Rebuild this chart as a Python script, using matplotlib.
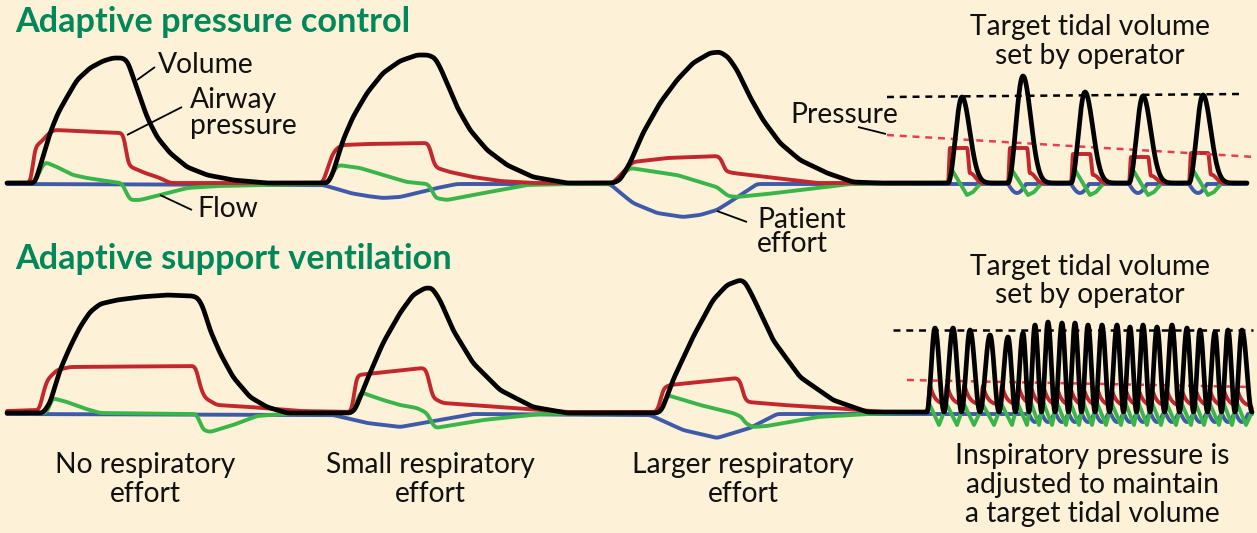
import numpy as np
import matplotlib
matplotlib.use("Agg")
import matplotlib.pyplot as plt

plt.rcParams['lines.scale_dashes'] = False

W, H = 1257, 533
BG = '#fdf2d7'
C_VOL, C_P, C_F, C_E = '#000000', '#c1272d', '#3ab54a', '#3f5aa9'
C_PD, C_TITLE = '#ec3b58', '#00875a'
FONT = 'Lato'

# ---------------- data: top panel (Adaptive pressure control) ----------------
# x = time axis, y = amplitude above the resting baseline
top_vol_x = [7, 35, 43, 50, 58, 67, 77, 90, 103, 113, 123, 128, 133, 140, 147, 157, 170, 187, 207, 233, 267, 328,
             333, 343, 353, 367, 383, 400, 417, 428, 435, 440, 447, 457, 470, 487, 507, 533, 567, 613,
             620, 630, 643, 660, 677, 693, 710, 720, 728, 737, 750, 763, 780, 800, 827, 853, 880, 948]
top_vol_y = [0, 0, 26, 50, 70, 86, 103, 115, 122, 125, 125, 121, 106, 86, 66, 46, 30, 16, 8, 3, 0, 0,
             10, 43, 66, 90, 110, 122, 128, 128, 125, 116, 100, 76, 53, 33, 18, 6, 0, 0,
             3, 20, 50, 80, 103, 120, 130, 131, 126, 113, 86, 63, 40, 23, 10, 1, 0, 0]

top_press_x = [7, 32, 33, 35, 43, 50, 55, 122, 125, 127, 131, 145, 160, 170, 323,
               327, 332, 337, 343, 367, 428, 431, 433, 437, 450, 473, 500, 533, 610,
               613, 623, 633, 667, 718, 722, 725, 733, 767, 817, 948]
top_press_y = [0, 0, 28, 36, 43, 51, 53, 50, 46, 20, 16, 10, 5, 0, 0,
               13, 28, 35, 38, 39, 40, 33, 20, 15, 11, 6, 2, 0, 0,
               0, 11, 21, 25, 27, 23, 12, 10, 6, 0, 0]

top_flow_x = [7, 35, 40, 45, 57, 73, 87, 113, 122, 126, 130, 140, 160, 187, 217, 267, 323,
              328, 333, 338, 360, 383, 407, 428, 432, 435, 447, 473, 500, 527, 567, 613,
              620, 630, 650, 677, 700, 717, 723, 728, 737, 767, 800, 850, 948]
top_flow_y = [0, 0, 13, 21, 16, 8, 5, 1, 0, -9, -17, -17, -12, -5, -3, -2, -1,
              1, 11, 18, 15, 8, 1, -1, -7, -15, -17, -12, -7, -2, -1, -1,
              6, 15, 12, 8, 1, -4, -9, -13, -14, -11, -7, -1, 0]

top_eff_x = [7, 323, 337, 350, 367, 383, 400, 417, 437, 457,
             610, 623, 633, 657, 683, 700, 717, 733, 757, 948]
top_eff_y = [-1, -2, -6, -10, -13, -15, -14, -10, -5, -1,
             -1, -12, -20, -30, -34, -32, -27, -17, -1, -1]

# fast breaths on the right (top)
top_fast_onset = [948, 1008, 1071, 1129, 1189]
top_fast_peak = [962, 1023, 1085, 1143, 1203]
top_fast_vol = [86, 107, 91, 87, 88]
top_fast_press = [35, 35, 29, 26, 30]
top_fast_effort = [0, 9, 9, 9, 9]
top_end = 1247

top_target_x, top_target_y = [887, 1240], [86, 89]
top_ptarget_x, top_ptarget_y = [887, 1255], [48, 26]

# ---------------- data: bottom panel (Adaptive support ventilation) ----------------
bot_vol_x = [7, 43, 50, 60, 70, 80, 90, 100, 117, 140, 167, 193, 198, 203, 210, 220, 233, 250, 267, 287,
             350, 355, 367, 383, 400, 413, 425, 432, 440, 453, 473, 500, 533, 567,
             657, 662, 673, 693, 713, 727, 740, 745, 753, 773, 800, 833, 867, 927]
bot_vol_y = [-1, -1, 9, 42, 65, 85, 100, 108, 112, 115, 117, 116, 114, 105, 82, 59, 35, 15, 5, -1,
             -1, 2, 32, 69, 99, 117, 124, 124, 112, 82, 49, 22, 5, -1,
             -1, 2, 32, 75, 112, 127, 132, 130, 115, 72, 35, 12, 0, 0]

bot_press_x = [7, 40, 42, 47, 57, 70, 195, 197, 200, 205, 217, 250, 300,
               350, 353, 355, 358, 367, 423, 427, 430, 433, 443, 500, 567,
               657, 660, 663, 670, 737, 742, 743, 748, 783, 833, 883, 927]
bot_press_y = [1, 2, 15, 32, 42, 45, 46, 42, 25, 14, 7, 5, 1,
               0, 2, 32, 37, 38, 44, 42, 25, 14, 9, 5, 0,
               0, 9, 24, 27, 34, 29, 15, 10, 7, 4, 0, 0]

bot_flow_x = [7, 47, 52, 67, 83, 100, 197, 200, 203, 210, 233, 257, 283,
              353, 360, 383, 400, 417, 427, 432, 435, 483, 540,
              660, 667, 700, 733, 742, 745, 753, 767, 817, 867, 927]
bot_flow_y = [-1, -1, 14, 10, 4, -1, -2, -11, -18, -20, -13, -4, -2,
              -1, 20, 12, 7, 4, -1, -11, -16, -8, -2,
              -1, 17, 7, -1, -5, -11, -15, -14, -5, -2, 0]

bot_eff_x = [7, 333, 367, 400, 440, 473, 650, 683, 717, 750, 777, 927]
bot_eff_y = [-2, -3, -11, -15, -8, -2, -3, -18, -26, -16, -2, -2]

bot_fast_start = 927
bot_fast_peak = [935, 953, 970, 990, 1008, 1023, 1035, 1048, 1062, 1075, 1088,
                 1102, 1117, 1130, 1143, 1157, 1172, 1187, 1200, 1215, 1228, 1242]
bot_fast_vol = [84, 84, 82, 77, 75, 79, 87, 90, 89, 89, 87,
                87, 87, 85, 87, 85, 87, 84, 82, 80, 82, 82]
bot_fast_press = [27, 27, 27, 26, 26, 26, 22, 22, 21, 21, 21,
                  21, 20, 20, 20, 20, 20, 20, 20, 20, 20, 20]
bot_fast_effort = [0, 0, 0, 0, 0, 0, 8, 8, 8, 8, 8,
                   8, 8, 8, 8, 8, 8, 8, 8, 8, 8, 8]
bot_end = 1252

bot_target_x, bot_target_y = [893, 1253], [82, 82]
bot_ptarget_x, bot_ptarget_y = [907, 1252], [32, 25]

# ---------------- helpers ----------------
STEP = 0.25


def smooth_curve(xk, yk, sigma=2.0):
    xs = np.arange(xk[0], xk[-1] + STEP / 2, STEP)
    ys = np.interp(xs, xk, yk)
    n = int(round(3 * sigma / STEP))
    k = np.exp(-0.5 * (np.arange(-n, n + 1) * STEP / sigma) ** 2)
    k /= k.sum()
    ys = np.convolve(np.pad(ys, n, mode='edge'), k, mode='valid')
    return xs, ys


def ramp(x, a, b):
    t = np.clip((x - a) / (b - a), 0, 1)
    return (1 - np.cos(np.pi * t)) / 2


def top_fast(xs):
    v = np.zeros_like(xs); p = np.zeros_like(xs)
    f = np.zeros_like(xs); e = np.full_like(xs, -1.0)
    for o, pk, A, P, E in zip(top_fast_onset, top_fast_peak, top_fast_vol, top_fast_press, top_fast_effort):
        fall = np.where(xs > pk, np.exp(-((xs - pk) / 11.0) ** 2), 1.0)
        v += A * ramp(xs, o, pk) * fall
        p += P * (ramp(xs, o, o + 2) - 0.72 * ramp(xs, o + 19, o + 22) - 0.28 * ramp(xs, o + 22, o + 34))
        d = pk - o
        f += np.interp(xs, [o, o + 4, o + d + 5, o + d + 11, o + d + 19], [0, 13, -12, -9, 0], left=0, right=0)
        if E:
            t = np.clip((xs - o) / 18.0, 0, 1)
            e -= E * np.sin(np.pi * t)
    return v, p, f, e


def bot_fast(xs):
    pk = np.array(bot_fast_peak, float)
    on = np.concatenate([[bot_fast_start], (pk[:-1] + pk[1:]) / 2])
    en = np.concatenate([on[1:], [bot_end]])
    v = np.zeros_like(xs); p = np.zeros_like(xs)
    f = np.zeros_like(xs); e = np.full_like(xs, -2.0)
    for i in range(len(pk)):
        o, q, z = on[i], pk[i], en[i]
        v += bot_fast_vol[i] * (ramp(xs, o, q) - ramp(xs, q, z))
        R = bot_fast_press[i]
        tail = 0.25 + 0.75 * np.exp(-np.clip(xs - o - 3, 0, None) / 5.0)
        p += R * ramp(xs, o, o + 3) * tail * (1 - ramp(xs, z - 1.5, z + 1.5))
        f += np.interp(xs, [o, o + 2, q + 4, z], [0, 9, -13, 0], left=0, right=0)
        if bot_fast_effort[i]:
            t = np.clip((xs - (q - 6)) / 12.0, 0, 1)
            e -= bot_fast_effort[i] * np.sin(np.pi * t)
    return v, p, f, e


def build(xk, yk, fast_x, fast_y):
    xs, ys = smooth_curve(xk, yk)
    return np.concatenate([xs, fast_x]), np.concatenate([ys, fast_y])


# ---------------- figure ----------------
fig = plt.figure(figsize=(W / 100, H / 100), dpi=100)
fig.patch.set_facecolor(BG)

top_base_px, bot_base_px, split_px = 183, 412, 245
ax_t = fig.add_axes([0, (H - split_px) / H, 1, split_px / H])
ax_t.set_xlim(0, W); ax_t.set_ylim(top_base_px - split_px, top_base_px)
ax_b = fig.add_axes([0, 0, 1, (H - split_px) / H])
ax_b.set_xlim(0, W); ax_b.set_ylim(bot_base_px - H, bot_base_px - split_px)
for ax in (ax_t, ax_b):
    ax.axis('off')
    ax.patch.set_alpha(0)

lw_k, lw_c = 3.4, 2.8
style = dict(solid_capstyle='round', solid_joinstyle='round')

# top panel
fx = np.arange(top_fast_onset[0], top_end + STEP / 2, STEP)[1:]
fv, fp, ff, fe = top_fast(fx)
ax_t.plot(*build(top_eff_x, top_eff_y, fx, fe), color=C_E, lw=lw_c, zorder=2, **style)
ax_t.plot(*build(top_flow_x, top_flow_y, fx, ff), color=C_F, lw=lw_c, zorder=3, **style)
ax_t.plot(*build(top_press_x, top_press_y, fx, fp), color=C_P, lw=lw_c, zorder=4, **style)
ax_t.plot(top_ptarget_x, top_ptarget_y, color=C_PD, lw=1.8, dashes=(5, 4.2), zorder=5)
ax_t.plot(top_target_x, top_target_y, color='black', lw=1.8, dashes=(5, 4.2), zorder=5)
ax_t.plot(*build(top_vol_x, top_vol_y, fx, fv), color=C_VOL, lw=lw_k, zorder=6, **style)

# bottom panel
bx = np.arange(bot_fast_start, bot_end + STEP / 2, STEP)[1:]
bv, bp, bf, be = bot_fast(bx)
ax_b.plot(*build(bot_eff_x, bot_eff_y, bx, be), color=C_E, lw=lw_c, zorder=2, **style)
ax_b.plot(*build(bot_flow_x, bot_flow_y, bx, bf), color=C_F, lw=lw_c, zorder=3, **style)
ax_b.plot(*build(bot_press_x, bot_press_y, bx, bp), color=C_P, lw=lw_c, zorder=4, **style)
ax_b.plot(bot_ptarget_x, bot_ptarget_y, color=C_PD, lw=1.8, dashes=(5, 4.2), zorder=5)
ax_b.plot(bot_target_x, bot_target_y, color='black', lw=1.8, dashes=(5, 4.2), zorder=5)
ax_b.plot(*build(bot_vol_x, bot_vol_y, bx, bv), color=C_VOL, lw=lw_k, zorder=6, **style)

# ---------------- annotation overlay (layout in figure pixels) ----------------
ax_o = fig.add_axes([0, 0, 1, 1])
ax_o.set_xlim(0, W); ax_o.set_ylim(H, 0); ax_o.axis('off'); ax_o.patch.set_alpha(0)

renderer = fig.canvas.get_renderer()


def fit(t, width):
    for _ in range(3):
        bb = t.get_window_extent(renderer)
        t.set_fontsize(t.get_fontsize() * width / bb.width)
    return t.get_fontsize()


t1 = ax_o.text(15, 32, 'Adaptive pressure control', color=C_TITLE, fontsize=22, fontweight='bold',
               family=FONT, ha='left', va='baseline')
title_size = fit(t1, 395)
ax_o.text(15, 269, 'Adaptive support ventilation', color=C_TITLE, fontsize=title_size, fontweight='bold',
          family=FONT, ha='left', va='baseline')

probe = ax_o.text(0, 0, 'Target tidal volume', fontsize=18, family=FONT)
body = fit(probe, 240)
probe.remove()

labels = [
    ('Volume', 158, 73, 'left'), ('Airway', 190, 108, 'left'), ('pressure', 190, 134, 'left'),
    ('Flow', 197, 217, 'left'), ('Pressure', 790, 123, 'left'),
    ('Patient', 757, 228, 'left'), ('effort', 757, 252, 'left'),
    ('Target tidal volume', 1090, 35, 'center'), ('set by operator', 1090, 64, 'center'),
    ('Target tidal volume', 1090, 275, 'center'), ('set by operator', 1090, 303, 'center'),
    ('No respiratory', 145, 473, 'center'), ('effort', 145, 502, 'center'),
    ('Small respiratory', 430, 473, 'center'), ('effort', 430, 502, 'center'),
    ('Larger respiratory', 743, 473, 'center'), ('effort', 743, 502, 'center'),
    ('Inspiratory pressure is', 1092, 464, 'center'), ('adjusted to maintain', 1092, 493, 'center'),
    ('a target tidal volume', 1092, 522, 'center'),
]
for s, x, y, ha in labels:
    ax_o.text(x, y, s, fontsize=body, family=FONT, ha=ha, va='baseline', color='#111111')

leaders = [((137, 80), (155, 67)), ((127, 135), (182, 107)), ((160, 195), (192, 210)),
           ((858, 127), (886, 134)), ((717, 211), (747, 222))]
for (x0, y0), (x1, y1) in leaders:
    ax_o.plot([x0, x1], [y0, y1], color='black', lw=1.3, solid_capstyle='butt')

fig.savefig('out.png', dpi=100, facecolor=BG)
